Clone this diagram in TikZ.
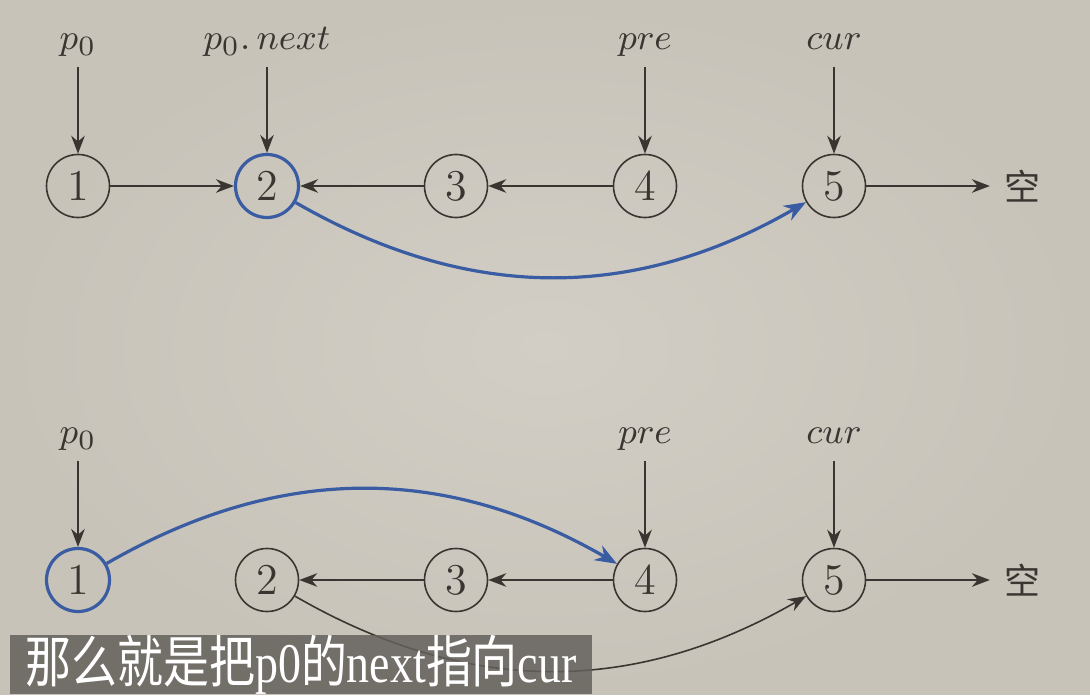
\documentclass[tikz,border=0pt]{standalone}
\usepackage{graphicx}
\usepackage{fontspec}
\newfontfamily\cjk{Noto Sans CJK SC}
\newfontfamily\lser{Liberation Serif}
\usetikzlibrary{arrows.meta}
\definecolor{bgcol}{RGB}{200,195,185}
\definecolor{bglight}{RGB}{210,206,197}
\definecolor{ink}{RGB}{58,53,48}
\definecolor{hlblue}{RGB}{58,92,162}
\definecolor{subbg}{RGB}{100,97,92}
\tikzset{
  elem/.style={circle,draw=ink,text=ink,minimum size=15.75pt,inner sep=0pt,
    font=\fontsize{11}{13}\selectfont},
  hot/.style={draw=hlblue,line width=0.8pt},
  ptr/.style={text=ink,font=\fontsize{9.5}{11}\selectfont,
    text height=1.6ex,text depth=0.5ex,inner sep=2pt},
  link/.style={draw=ink,line width=0.4pt,-{Stealth[length=4.5pt,width=3.4pt]}},
  relink/.style={draw=hlblue,line width=0.8pt,-{Stealth[length=5.5pt,width=4.2pt]}}
}
\begin{document}
\begin{tikzpicture}[x=0.25pt,y=0.25pt]
\shade[inner color=bglight,outer color=bgcol] (0,0) rectangle (1090,694);

% before
\node[elem] (a1) at (78,508) {1};
\node[elem,hot] (a2) at (267,508) {2};
\node[elem] (a3) at (456,508) {3};
\node[elem] (a4) at (645,508) {4};
\node[elem] (a5) at (834,508) {5};
\node[text=ink,font=\cjk\fontsize{9}{10}\selectfont] (anull) at (1022,508) {空};

\node[ptr] (ap0) at (78,654) {$p_0$};
\node[ptr] (anext) at (267,654) {$p_0.\,next$};
\node[ptr] (apre) at (645,654) {$pre$};
\node[ptr] (acur) at (834,654) {$cur$};

\draw[link] (ap0) -- (a1);
\draw[link] (anext) -- (a2);
\draw[link] (apre) -- (a4);
\draw[link] (acur) -- (a5);
\draw[link] (a1) -- (a2);
\draw[link] (a3) -- (a2);
\draw[link] (a4) -- (a3);
\draw[link] (a5) -- (anull);
\draw[relink] (a2) to[bend right=30] (a5);

% after
\node[elem,hot] (b1) at (78,114) {1};
\node[elem] (b2) at (267,114) {2};
\node[elem] (b3) at (456,114) {3};
\node[elem] (b4) at (645,114) {4};
\node[elem] (b5) at (834,114) {5};
\node[text=ink,font=\cjk\fontsize{9}{10}\selectfont] (bnull) at (1022,114) {空};

\node[ptr] (bp0) at (78,260) {$p_0$};
\node[ptr] (bpre) at (645,260) {$pre$};
\node[ptr] (bcur) at (834,260) {$cur$};

\draw[link] (bp0) -- (b1);
\draw[link] (bpre) -- (b4);
\draw[link] (bcur) -- (b5);
\draw[link] (b3) -- (b2);
\draw[link] (b4) -- (b3);
\draw[link] (b5) -- (bnull);
\draw[link] (b2) to[bend right=30] (b5);
\draw[relink] (b1) to[bend left=30] (b4);

% subtitle
\node[fill=subbg,fill opacity=0.85,text opacity=1,text=white,inner sep=0pt,
  minimum width=145.5pt,minimum height=13.75pt,
  font=\fontsize{14}{15}\selectfont] (sub) at (301,29.5)
  {\scalebox{0.82}[1]{\cjk 那么就是把{\lser p0}的{\lser next}指向{\lser cur}}};
\end{tikzpicture}
\end{document}
